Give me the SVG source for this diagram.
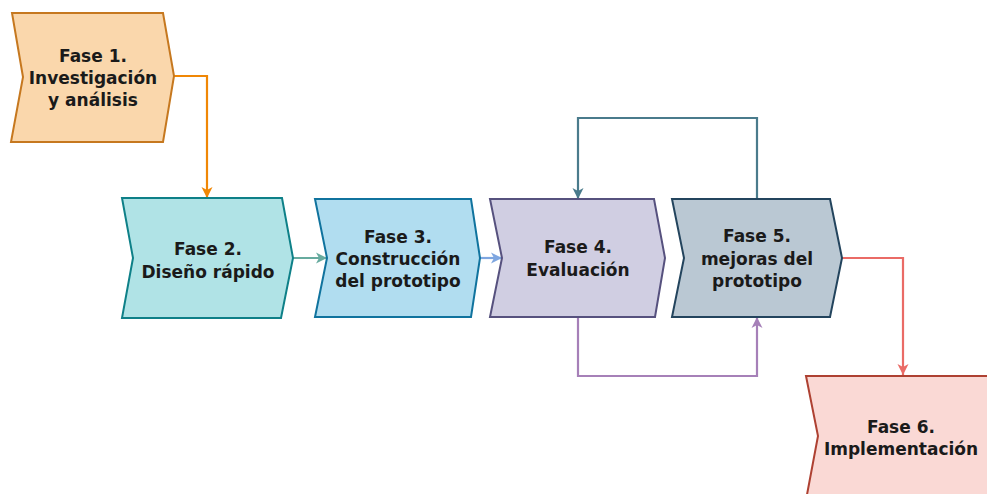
<svg xmlns="http://www.w3.org/2000/svg" width="987" height="494" viewBox="0 0 987 494">
<defs>
<style>
.shape{stroke-width:2;stroke-linejoin:miter}
.lbl{font-family:"DejaVu Sans",Verdana,sans-serif;font-weight:bold;font-size:17px;fill:#1a1a1a;text-anchor:middle}
.conn{fill:none;stroke-width:2.2}
</style>
<marker id="aOrange" markerUnits="userSpaceOnUse" markerWidth="13" markerHeight="12" refX="11" refY="6" orient="auto"><path d="M0,0.5 L11,6 L0,11.5 L3,6 Z" fill="#f08705"/></marker>
<marker id="aGreen" markerUnits="userSpaceOnUse" markerWidth="13" markerHeight="12" refX="11" refY="6" orient="auto"><path d="M0,0.5 L11,6 L0,11.5 L3,6 Z" fill="#67ab9f"/></marker>
<marker id="aBlue" markerUnits="userSpaceOnUse" markerWidth="13" markerHeight="12" refX="11" refY="6" orient="auto"><path d="M0,0.5 L11,6 L0,11.5 L3,6 Z" fill="#7ea6e0"/></marker>
<marker id="aTeal" markerUnits="userSpaceOnUse" markerWidth="13" markerHeight="12" refX="11" refY="6" orient="auto"><path d="M0,0.5 L11,6 L0,11.5 L3,6 Z" fill="#4a7b8c"/></marker>
<marker id="aPurple" markerUnits="userSpaceOnUse" markerWidth="13" markerHeight="12" refX="11" refY="6" orient="auto"><path d="M0,0.5 L11,6 L0,11.5 L3,6 Z" fill="#a680b8"/></marker>
<marker id="aRed" markerUnits="userSpaceOnUse" markerWidth="13" markerHeight="12" refX="11" refY="6" orient="auto"><path d="M0,0.5 L11,6 L0,11.5 L3,6 Z" fill="#ea6b66"/></marker>
</defs>
<rect width="987" height="494" fill="#ffffff"/>
<g id="connectors">
<path class="conn" stroke="#f08705" d="M174,76 H207 V198" marker-end="url(#aOrange)"/>
<path class="conn" stroke="#67ab9f" d="M293,258 H327" marker-end="url(#aGreen)"/>
<path class="conn" stroke="#7ea6e0" d="M480,258 H502" marker-end="url(#aBlue)"/>
<path class="conn" stroke="#4a7b8c" d="M757,199 V118 H578 V199" marker-end="url(#aTeal)"/>
<path class="conn" stroke="#a680b8" d="M578,317 V376 H757 V317" marker-end="url(#aPurple)"/>
<path class="conn" stroke="#ea6b66" d="M842,258 H903 V375" marker-end="url(#aRed)"/>
</g>
<g id="fase1">
<path class="shape" d="M12,13 H163 L174,76 L163,142 H11 L23,77 Z" fill="#fad7ac" stroke="#c6781f"/>
<text class="lbl" x="93" y="62">Fase 1.</text>
<text class="lbl" x="93" y="84">Investigación</text>
<text class="lbl" x="93" y="106">y análisis</text>
</g>
<g id="fase2">
<path class="shape" d="M122,198 H282 L293,258 L281,318 H122 L133,258 Z" fill="#b0e3e6" stroke="#0e8088"/>
<text class="lbl" x="208" y="255">Fase 2.</text>
<text class="lbl" x="208" y="278">Diseño rápido</text>
</g>
<g id="fase3">
<path class="shape" d="M315,199 H471 L480,258 L471,317 H315 L327,258 Z" fill="#b1ddf0" stroke="#10739e"/>
<text class="lbl" x="398" y="243">Fase 3.</text>
<text class="lbl" x="398" y="265">Construcción</text>
<text class="lbl" x="398" y="287">del prototipo</text>
</g>
<g id="fase4">
<path class="shape" d="M490,199 H654 L665,258 L655,317 H490 L502,258 Z" fill="#d0cee2" stroke="#56517e"/>
<text class="lbl" x="578" y="253">Fase 4.</text>
<text class="lbl" x="578" y="276">Evaluación</text>
</g>
<g id="fase5">
<path class="shape" d="M672,199 H830 L842,258 L830,317 H672 L684,258 Z" fill="#bac8d3" stroke="#23445d"/>
<text class="lbl" x="757" y="242">Fase 5.</text>
<text class="lbl" x="757" y="265">mejoras del</text>
<text class="lbl" x="757" y="287">prototipo</text>
</g>
<g id="fase6">
<path class="shape" d="M806,376 H1000 V500 H806 L818,436 Z" fill="#fad9d5" stroke="#ae4132"/>
<text class="lbl" x="901" y="433">Fase 6.</text>
<text class="lbl" x="901" y="455">Implementación</text>
</g>
</svg>
